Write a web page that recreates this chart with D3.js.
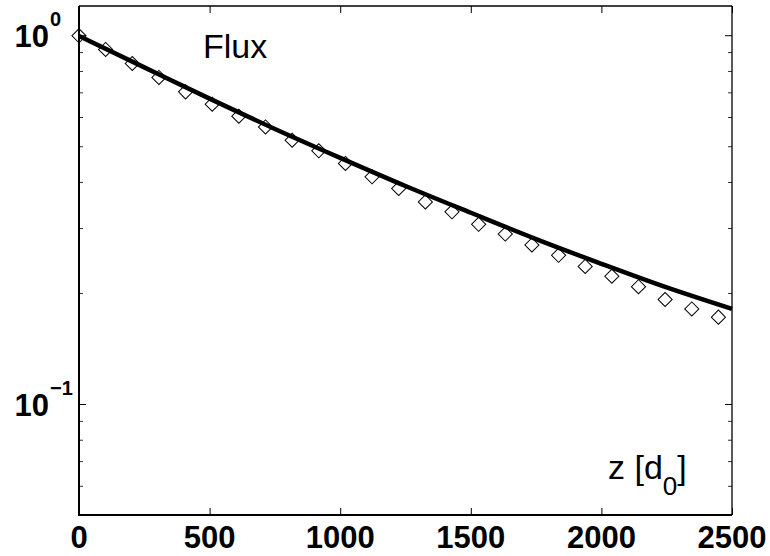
<!DOCTYPE html>
<html>
<head>
<meta charset="utf-8">
<script src="https://cdn.jsdelivr.net/npm/d3@7"></script>
<style>
  body { margin: 0; background: #fff; }
  svg { display: block; font-family: "Liberation Sans", Arial, Helvetica, sans-serif; }
</style>
</head>
<body>
<svg id="chart" width="770" height="556"></svg>
<script>
// data
var zPoints = [0, 102, 204, 306, 408, 510, 612, 714, 816, 918, 1020, 1122, 1224,
  1326, 1428, 1530, 1632, 1734, 1836, 1938, 2040, 2142, 2244, 2346, 2448];
var fluxPoints = [0.996, 0.915, 0.838, 0.768, 0.702, 0.650, 0.603, 0.564, 0.519, 0.486,
  0.449, 0.413, 0.384, 0.353, 0.332, 0.307, 0.289, 0.270, 0.253, 0.236, 0.222,
  0.208, 0.192, 0.181, 0.172];
var zCurve = [0, 250, 500, 750, 1000, 1250, 1500, 1750, 2000, 2250, 2500];
var fluxCurve = [0.995, 0.818, 0.673, 0.557, 0.465, 0.390, 0.330, 0.280, 0.240, 0.207, 0.181];

var xTicks = [0, 500, 1000, 1500, 2000, 2500];
var yMajor = [1, 0.1];
var yExponents = ["0", "\u22121"];
var yMinor = [0.06, 0.07, 0.08, 0.09, 0.2, 0.3, 0.4, 0.5, 0.6, 0.7, 0.8, 0.9];

// plot box (window.top is reserved, so other names)
var boxL = 79, boxR = 732, boxT = 6, boxB = 515;

var svg = d3.select("#chart");

var x = d3.scaleLinear().domain([0, 2500]).range([boxL, boxR]);
var y = d3.scaleLog().domain([0.05, 1.2]).range([boxB, boxT]);

// ticks (inside the box)
function strip(g) { g.select(".domain").remove(); g.selectAll("line").attr("stroke", "#000"); }

svg.append("g").attr("transform", "translate(0," + boxB + ")")
  .call(d3.axisBottom(x).tickValues(xTicks).tickSize(-7).tickSizeOuter(0).tickFormat(""))
  .call(strip);
svg.append("g").attr("transform", "translate(0," + boxT + ")")
  .call(d3.axisTop(x).tickValues(xTicks).tickSize(-7).tickSizeOuter(0).tickFormat(""))
  .call(strip);

[[d3.axisLeft, boxL], [d3.axisRight, boxR]].forEach(function (a) {
  svg.append("g").attr("transform", "translate(" + a[1] + ",0)")
    .call(a[0](y).tickValues(yMajor).tickSize(-7).tickSizeOuter(0).tickFormat(""))
    .call(strip);
  svg.append("g").attr("transform", "translate(" + a[1] + ",0)")
    .call(a[0](y).tickValues(yMinor).tickSize(-4).tickSizeOuter(0).tickFormat(""))
    .call(strip)
    .selectAll("line").attr("stroke", "#333");
});

// box
svg.append("line").attr("x1", boxL).attr("x2", boxR).attr("y1", boxT).attr("y2", boxT)
  .attr("stroke", "#000").attr("stroke-width", 1.3);
svg.append("line").attr("x1", boxR).attr("x2", boxR).attr("y1", boxT).attr("y2", boxB)
  .attr("stroke", "#000").attr("stroke-width", 1.3);
svg.append("line").attr("x1", boxL).attr("x2", boxL).attr("y1", boxT).attr("y2", boxB + 1)
  .attr("stroke", "#000").attr("stroke-width", 2);
svg.append("line").attr("x1", boxL - 1).attr("x2", boxR).attr("y1", boxB).attr("y2", boxB)
  .attr("stroke", "#000").attr("stroke-width", 2);

// x tick labels
svg.append("g").selectAll("text").data(xTicks).join("text")
  .attr("x", function (d) { return x(d); })
  .attr("y", 548)
  .attr("text-anchor", "middle")
  .attr("font-size", "31px")
  .attr("font-weight", "bold")
  .text(function (d) { return d; });

// y tick labels 10^n
svg.append("g").selectAll("text").data(yMajor).join("text")
  .attr("x", 49)
  .attr("y", function (d) { return y(d) + 12; })
  .attr("text-anchor", "end")
  .attr("font-size", "31px")
  .attr("font-weight", "bold")
  .text("10");
svg.append("g").selectAll("text").data(yMajor).join("text")
  .attr("x", 50)
  .attr("y", function (d) { return y(d) - 9; })
  .attr("font-size", "20px")
  .attr("font-weight", "bold")
  .text(function (d, i) { return yExponents[i]; });

// markers
svg.append("g").selectAll("path").data(zPoints).join("path")
  .attr("d", d3.symbol(d3.symbolSquare, 100))
  .attr("transform", function (d, i) {
    return "translate(" + x(d) + "," + y(fluxPoints[i]) + ") rotate(45)";
  })
  .attr("fill", "none")
  .attr("stroke", "#000")
  .attr("stroke-width", 1);

// fitted curve
var line = d3.line()
  .x(function (d) { return x(d); })
  .y(function (d, i) { return y(fluxCurve[i]); })
  .curve(d3.curveMonotoneX);
svg.append("path").datum(zCurve)
  .attr("d", line)
  .attr("fill", "none")
  .attr("stroke", "#000")
  .attr("stroke-width", 4.5);

// annotations
svg.append("text").attr("x", 203).attr("y", 58).attr("font-size", "34px").text("Flux");
var zl = svg.append("text").attr("x", 608).attr("y", 479).attr("font-size", "34px");
zl.append("tspan").text("z [d");
zl.append("tspan").attr("font-size", "26px").attr("dy", 16).text("0");
zl.append("tspan").attr("dy", -16).text("]");
</script>
</body>
</html>
